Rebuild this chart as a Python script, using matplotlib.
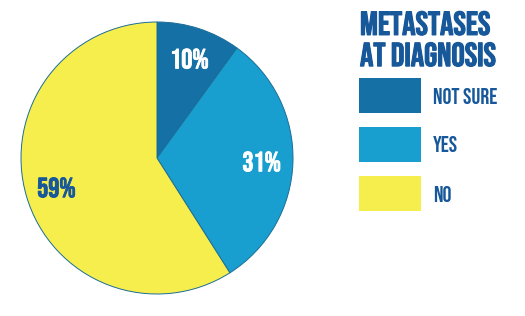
import matplotlib
matplotlib.use("Agg")
from matplotlib import pyplot as plt
from matplotlib import patheffects as pe
from matplotlib.patches import Rectangle

# data
labels = ["NOT SURE", "YES", "NO"]
values = [10, 31, 59]
colors = ["#1570a6", "#199fcf", "#f6ee4c"]
pct_colors = ["white", "white", "#17589a"]
title = "METASTASES\nAT DIAGNOSIS"
text_blue = "#17589a"

plt.rcParams["font.family"] = ["Bebas Neue", "Oswald", "DejaVu Sans"]

fig = plt.figure(figsize=(5.25, 3.16), dpi=100)
ax = fig.add_axes([0, 0, 1, 1])

wedges, texts, autotexts = ax.pie(
    values, colors=colors, startangle=90, counterclock=False,
    center=(157, 158), radius=136, frame=True,
    autopct=lambda p: "%d%%" % round(p), pctdistance=0.77,
    wedgeprops=dict(edgecolor="#1b6d96", linewidth=0.7),
)
ax.set_xlim(0, 525)
ax.set_ylim(0, 316)
ax.set_aspect("equal")
ax.axis("off")
for t, c in zip(autotexts, pct_colors):
    t.set_color(c)
    t.set_fontsize(20)
    t.set_va("center")
    t.set_path_effects([pe.withStroke(linewidth=0.6, foreground=c)])

# legend
ax.text(360, 316 - 38.5, title, color=text_blue, fontsize=24,
        ha="left", va="center", linespacing=1.3,
        path_effects=[pe.withStroke(linewidth=0.8, foreground=text_blue)])
for i, (lab, col) in enumerate(zip(labels, colors)):
    y = 316 - 113 - i * 49
    ax.add_patch(Rectangle((359, y), 62, 35, facecolor=col, edgecolor="none"))
    ax.text(433, y + 17.5, lab, color=text_blue, fontsize=16,
            ha="left", va="center_baseline")

fig.savefig("out.png", dpi=100)
